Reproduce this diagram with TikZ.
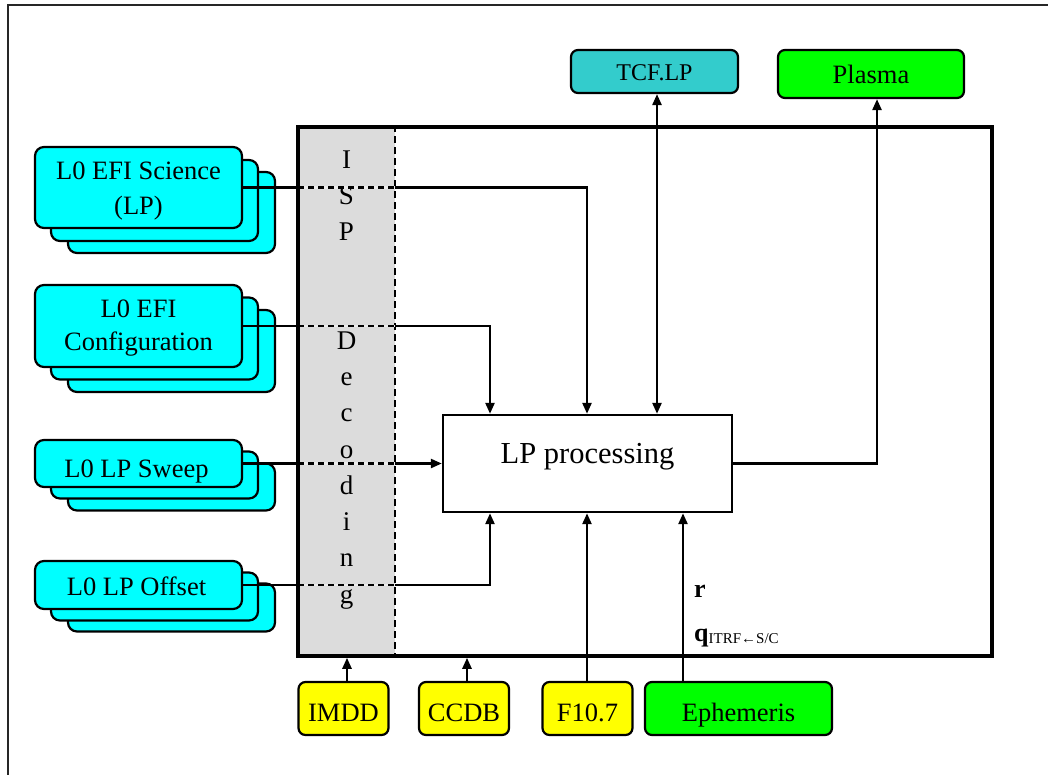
\documentclass[tikz,border=0pt]{standalone}
\usepackage{fontspec}
\setmainfont{Liberation Serif}
\usetikzlibrary{arrows.meta,calc}
\definecolor{cyanbox}{HTML}{00FFFF}
\definecolor{tealbox}{HTML}{33CCCC}
\definecolor{greenbox}{HTML}{00FF00}
\definecolor{yellowbox}{HTML}{FFFF00}
\definecolor{stripgray}{HTML}{DCDCDC}
\begin{document}
\begin{tikzpicture}[x=1pt,y=-1pt,
  stackbox/.style={draw, fill=cyanbox, rounded corners=9pt, line width=2.2pt, minimum width=207pt, inner sep=0pt},
  stacktext/.style={align=center, inner sep=0pt, font=\fontsize{26.5}{35}\selectfont},
  srcbox/.style={draw, rounded corners=7pt, line width=2.2pt, inner sep=0pt, font=\fontsize{26.5}{30}\selectfont, text height=25pt, text depth=0pt},
  topbox/.style={draw, rounded corners=7pt, line width=2.2pt, inner sep=0pt, text height=18.5pt, text depth=0pt},
  letter/.style={anchor=base, inner sep=0pt, font=\fontsize{27}{30}\selectfont},
  conn/.style={line width=2.4pt},
  arr/.style={conn, -{Triangle[length=11pt,width=9pt]}},
  stripdash/.style={line width=2.4pt, dash pattern=on 6pt off 4pt}
]
\useasboundingbox (0,0) rectangle (1048,774);
\clip (0,0) rectangle (1048,774);
% outer frame
\draw[line width=2.5pt, black!85] (8,5) rectangle (1080,800);

% ISP strip and main box
\fill[stripgray] (298,127) rectangle (395,656);
\node[draw, line width=3.5pt, minimum width=694pt, minimum height=529pt, inner sep=0pt] (main) at (645,391.5) {};
\draw[line width=2pt, dash pattern=on 7pt off 4pt] (main.north -| 395,0) -- (main.south -| 395,0);

% ISP Decoding letters
\foreach \ch/\k [count=\n] in {I/0,S/1,P/2,D/5,e/6,c/7,o/8,d/9,i/10,n/11,g/12}{
  \node[letter] (isp\n) at (346.5,{168+36.25*\k}) {\ch};
}

% LP processing
\node[draw, line width=2.4pt, minimum width=289pt, minimum height=97pt, inner sep=0pt] (lp) at (587.5,463.5) {};
\node[anchor=base, inner sep=0pt, font=\fontsize{30.5}{34}\selectfont] (lpt) at (587.5,463) {LP processing};

% stacks
\node[stackbox, minimum height=81pt] (s1c) at (171.5,212.5) {};
\node[stackbox, minimum height=81pt] (s1b) at (154.5,200.5) {};
\node[stackbox, minimum height=81pt] (s1) at (138.5,187.5) {};
\node[stacktext] (s1t) at (138.5,191.5) {L0 EFI Science\\(LP)};

\node[stackbox, minimum height=82pt] (s2c) at (171.5,351) {};
\node[stackbox, minimum height=82pt] (s2b) at (154.5,338.5) {};
\node[stackbox, minimum height=82pt] (s2) at (138.5,326) {};
\node[stacktext, font=\fontsize{26.5}{33.5}\selectfont] (s2t) at (138.5,328) {L0 EFI\\Configuration};

\node[stackbox, minimum height=47pt] (s3c) at (171.5,487) {};
\node[stackbox, minimum height=47pt] (s3b) at (154.5,475) {};
\node[stackbox, minimum height=47pt] (s3) at (138.5,463.5) {};
\node[stacktext, anchor=base] (s3t) at (136.5,477) {L0 LP Sweep};

\node[stackbox, minimum height=48pt] (s4c) at (171.5,607.5) {};
\node[stackbox, minimum height=48pt] (s4b) at (154.5,596.5) {};
\node[stackbox, minimum height=48pt] (s4) at (138.5,585) {};
\node[stacktext, anchor=base] (s4t) at (136.5,595) {L0 LP Offset};

% top boxes
\node[topbox, fill=tealbox, minimum width=167pt, minimum height=43pt, font=\fontsize{24}{28}\selectfont] (tcf) at (654.5,71.5) {TCF.LP};
\node[topbox, fill=greenbox, minimum width=186pt, minimum height=48pt, font=\fontsize{26.5}{30}\selectfont] (plasma) at (871,74) {Plasma};

% bottom boxes
\node[srcbox, fill=yellowbox, minimum width=90pt, minimum height=53pt] (imdd) at (343.5,708.5) {IMDD};
\node[srcbox, fill=yellowbox, minimum width=90pt, minimum height=53pt] (ccdb) at (464,708.5) {CCDB};
\node[srcbox, fill=yellowbox, minimum width=90pt, minimum height=53pt] (f107) at (587.5,708.5) {F10.7};
\node[srcbox, fill=greenbox, minimum width=187pt, minimum height=53pt] (eph) at (738.5,708.5) {Ephemeris};

% x reference coordinates
\coordinate (cx347) at (347,0);
\coordinate (cx467) at (467,0);
\coordinate (cx490) at (490,0);
\coordinate (cx587) at (587,0);
\coordinate (cx657) at (657,0);
\coordinate (cx683) at (683,0);
\coordinate (cx877) at (877,0);

% connectors from stacks
\draw[arr] (s1.east) -| (lp.north -| cx587);
\draw[arr] (s2.east) -| (lp.north -| cx490);
\draw[arr] (s3.east) -- (lp.west |- s3.east);
\draw[arr] (s4.east) -| (lp.south -| cx490);
% dashed parts inside strip
\foreach \yy in {187.5,326,463.5,585}{
  \draw[line width=2.4pt, white!85!gray] (298,\yy) -- (395,\yy);
  \draw[stripdash] (298,\yy) -- (395,\yy);
}

% outputs
\draw[conn, {Triangle[length=11pt,width=9pt]}-{Triangle[length=11pt,width=9pt]}] (lp.north -| cx657) -- (tcf.south -| cx657);
\draw[arr] (lp.east) -| (plasma.south -| cx877);

% inputs from bottom
\draw[arr] (imdd.north -| cx347) -- (main.south -| cx347);
\draw[arr] (ccdb.north -| cx467) -- (main.south -| cx467);
\draw[arr] (f107.north -| cx587) -- (lp.south -| cx587);
\draw[arr] (eph.north -| cx683) -- (lp.south -| cx683);

% labels
\node[anchor=base west, inner sep=0pt, font=\fontsize{26}{28}\selectfont\bfseries] (rlab) at (694,597) {r};
\node[anchor=base west, inner sep=0pt, font=\fontsize{26}{28}\selectfont] (qlab) at (694,641) {\textbf{q}\raisebox{-2pt}{\fontsize{15}{16}\selectfont ITRF←S/C}};
\end{tikzpicture}
\end{document}
